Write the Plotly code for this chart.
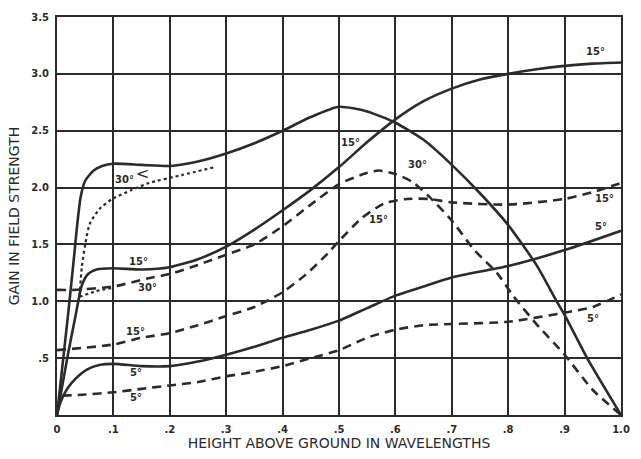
import plotly.graph_objects as go

# ---- data ----
x_tick_vals = [0, 0.1, 0.2, 0.3, 0.4, 0.5, 0.6, 0.7, 0.8, 0.9, 1.0]
x_tick_text = ["0", ".1", ".2", ".3", ".4", ".5", ".6", ".7", ".8", ".9", "1.0"]
y_tick_vals = [0.5, 1.0, 1.5, 2.0, 2.5, 3.0, 3.5]
y_tick_text = [".5", "1.0", "1.5", "2.0", "2.5", "3.0", "3.5"]

# solid 30 deg
s30_x = [0, 0.01, 0.02, 0.03, 0.036, 0.042, 0.05, 0.065, 0.08, 0.1, 0.15, 0.2, 0.25, 0.3, 0.35, 0.4, 0.45, 0.5,
         0.55, 0.6, 0.65, 0.7, 0.75, 0.8, 0.85, 0.886, 0.9, 0.94, 1.0]
s30_y = [0, 0.45, 0.9, 1.38, 1.68, 1.92, 2.06, 2.15, 2.19, 2.21, 2.2, 2.19, 2.23, 2.3, 2.39, 2.5, 2.62, 2.71,
         2.67, 2.57, 2.42, 2.2, 1.95, 1.67, 1.32, 1.0, 0.88, 0.5, 0.0]

# solid 15 deg
s15_x = [0, 0.02, 0.032, 0.044, 0.055, 0.07, 0.1, 0.15, 0.2, 0.25, 0.3, 0.35, 0.4, 0.45, 0.5, 0.55, 0.6,
         0.65, 0.7, 0.75, 0.8, 0.85, 0.9, 0.95, 1.0]
s15_y = [0, 0.55, 0.85, 1.14, 1.24, 1.28, 1.29, 1.28, 1.3, 1.37, 1.48, 1.63, 1.8, 1.98, 2.18, 2.4, 2.6,
         2.76, 2.87, 2.95, 3.0, 3.04, 3.07, 3.09, 3.1]

# solid 5 deg
s5_x = [0, 0.006, 0.018, 0.033, 0.053, 0.075, 0.1, 0.15, 0.2, 0.25, 0.3, 0.35, 0.4, 0.45, 0.5, 0.55, 0.6, 0.65,
        0.7, 0.8, 0.9, 1.0]
s5_y = [0, 0.11, 0.23, 0.32, 0.4, 0.44, 0.45, 0.43, 0.43, 0.47, 0.53, 0.6, 0.68, 0.75, 0.83, 0.94, 1.05, 1.13,
        1.21, 1.31, 1.45, 1.62]

# dashed 30 deg
d30_x = [0, 0.03, 0.1, 0.16, 0.2, 0.25, 0.3, 0.35, 0.4, 0.45, 0.5, 0.55, 0.57, 0.6, 0.63, 0.66, 0.7, 0.74,
         0.78, 0.81, 0.85, 0.9, 0.95, 1.0]
d30_y = [1.1, 1.1, 1.13, 1.2, 1.24, 1.32, 1.41, 1.5, 1.66, 1.85, 2.03, 2.13, 2.15, 2.12, 2.05, 1.92, 1.71, 1.45,
         1.25, 1.04, 0.8, 0.53, 0.22, 0.0]

# dashed 15 deg
d15_x = [0, 0.1, 0.15, 0.2, 0.25, 0.3, 0.35, 0.4, 0.44, 0.48, 0.5, 0.54, 0.58, 0.62, 0.66, 0.7, 0.8, 0.9,
         0.95, 1.0]
d15_y = [0.57, 0.62, 0.68, 0.72, 0.79, 0.87, 0.95, 1.08, 1.23, 1.42, 1.53, 1.73, 1.86, 1.9, 1.9, 1.87, 1.85,
         1.9, 1.96, 2.04]

# dashed 5 deg
d5_x = [0.01, 0.05, 0.1, 0.15, 0.2, 0.25, 0.3, 0.35, 0.4, 0.45, 0.5, 0.55, 0.6, 0.65, 0.7, 0.8, 0.9, 0.95, 1.0]
d5_y = [0.17, 0.18, 0.2, 0.23, 0.26, 0.29, 0.34, 0.38, 0.43, 0.5, 0.57, 0.68, 0.75, 0.79, 0.8, 0.82, 0.9,
        0.95, 1.06]

# dotted 30 deg
dot30_x = [0.04, 0.044, 0.05, 0.058, 0.075, 0.098, 0.133, 0.163, 0.221, 0.28]
dot30_y = [1.05, 1.3, 1.5, 1.68, 1.81, 1.9, 1.98, 2.04, 2.11, 2.18]
dot30b_x = [0.04, 0.07, 0.1]
dot30b_y = [1.04, 1.09, 1.12]

# curve labels
lab_text = ["15°", "15°", "30°", "15°", "15°", "5°", "5°", "15°", "30°", "15°", "5°", "5°", "30°"]
lab_x = [0.955, 0.52, 0.64, 0.57, 0.97, 0.965, 0.95, 0.145, 0.16, 0.14, 0.14, 0.14, 0.12]
lab_y = [3.2, 2.4, 2.2, 1.72, 1.9, 1.66, 0.85, 1.35, 1.12, 0.73, 0.37, 0.15, 2.07]

ink = "#2b2b2b"
fig = go.Figure()


def add(x, y, dash, width=2.6, shape="spline"):
    fig.add_trace(go.Scatter(x=x, y=y, mode="lines",
                             line=dict(color=ink, width=width, dash=dash, shape=shape, smoothing=0.6),
                             showlegend=False, hoverinfo="skip"))


add(s30_x, s30_y, "solid")
add(s15_x, s15_y, "solid")
add(s5_x, s5_y, "solid")
add(d30_x, d30_y, "9px,6px")
add(d15_x, d15_y, "9px,6px")
add(d5_x, d5_y, "9px,6px")
add(dot30_x, dot30_y, "dot", width=2.2)
add(dot30b_x, dot30b_y, "dot", width=2.2)

for t, x, y in zip(lab_text, lab_x, lab_y):
    fig.add_annotation(x=x, y=y, text="<b>" + t + "</b>", showarrow=False,
                       font=dict(family="DejaVu Sans", size=10, color=ink))
# bracket for the 30° label pointing at solid and dotted curves
fig.add_annotation(x=0.152, y=2.12, text="<", showarrow=False,
                   font=dict(family="DejaVu Sans", size=16, color=ink))

axis_common = dict(showgrid=True, gridcolor=ink, gridwidth=1.8, showline=True, linecolor=ink, linewidth=2,
                   mirror=True, zeroline=False, ticks="",
                   tickfont=dict(family="DejaVu Sans", size=10, color=ink, weight="bold"))

fig.update_xaxes(range=[0, 1.0], tickvals=x_tick_vals, ticktext=x_tick_text, ticklabelstandoff=4,
                 title=dict(text="HEIGHT ABOVE GROUND IN WAVELENGTHS", standoff=3,
                            font=dict(family="DejaVu Sans", size=14, color=ink)), **axis_common)
fig.update_yaxes(range=[0, 3.5], tickvals=y_tick_vals, ticktext=y_tick_text, ticklabelstandoff=4,
                 title=dict(text="GAIN IN FIELD STRENGTH", standoff=8,
                            font=dict(family="DejaVu Sans", size=14, color=ink)), **axis_common)

fig.update_layout(width=641, height=459, margin=dict(l=57, r=14, t=11, b=39),
                  plot_bgcolor="white", paper_bgcolor="white")

fig.write_html("out.html", config={"displayModeBar": False},
               post_script="document.body.style.margin='0';")
